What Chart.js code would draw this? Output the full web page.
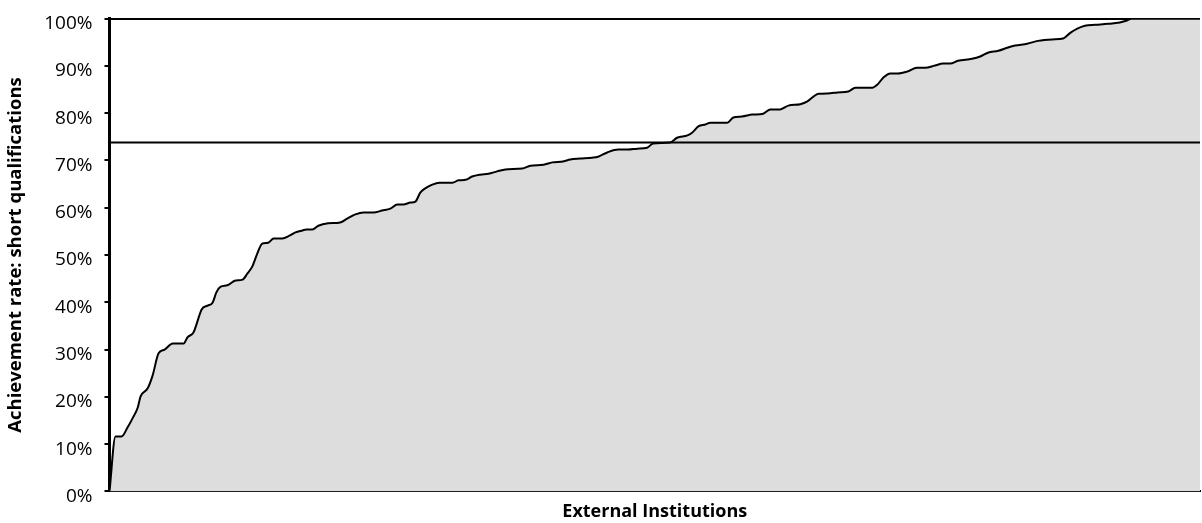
<!DOCTYPE html>
<html lang="en">
<head>
    <meta charset="UTF-8">
    <title>Achievement rate: short qualifications</title>
    <script src="https://cdn.jsdelivr.net/npm/chart.js"></script>
    <style>
        body {
            margin: 0;
            padding: 0;
            background-color: #ffffff;
        }

        .chart-box {
            width: 1202px;
            height: 523px;
            position: relative;
        }
    </style>
</head>
<body>
    <div class="chart-box">
        <canvas id="rateChart"></canvas>
    </div>

    <script>
        // position of each institution along the ranking (percent of institutions)
        const institutionPct = [
            0, 0.55, 1.1, 1.65, 2.1, 2.6, 2.85, 3.5, 3.95, 4.5, 5.05, 5.8, 6.8, 7.15, 7.7, 8.0,
            8.45, 9.0, 9.45, 9.8, 10.2, 10.8, 11.55, 12.2, 12.65, 13.1, 13.55, 14.0, 14.55, 15.05,
            15.85, 16.5, 17.05, 17.7, 18.05, 18.6, 19.15, 20.05, 21.15, 21.8, 22.55, 23.3, 24.2,
            25.0, 25.75, 26.4, 26.95, 27.6, 28.05, 28.5, 28.95, 29.6, 30.25, 31.45, 32.0, 32.65,
            33.25, 34.0, 34.75, 35.55, 36.3, 37.85, 38.6, 39.8, 40.6, 41.6, 42.25, 43.15, 44.25,
            44.8, 45.65, 46.65, 47.55, 48.4, 49.3, 49.85, 51.4, 52.05, 53.0, 53.45, 54.0, 54.65,
            55.1, 56.65, 57.2, 58.0, 58.95, 59.95, 60.6, 61.5, 62.25, 63.35, 64.0, 64.55, 65.0,
            66.1, 66.75, 67.75, 68.4, 69.95, 70.4, 70.95, 71.6, 72.3, 73.15, 74.05, 74.8, 75.7,
            76.45, 77.1, 77.8, 79.1, 79.85, 80.55, 81.5, 82.4, 83.05, 84.15, 85.15, 86.45, 87.45,
            88.1, 88.75, 89.45, 90.4, 91.55, 92.65, 93.3, 93.7, 100
        ];

        // achievement rate (%) read for each of those positions
        const achievementRate = [
            0, 11.6, 11.6, 13.5, 15.4, 17.8, 20.1, 21.8, 24.5, 29.2, 30.0, 31.3, 31.3, 32.6, 33.6, 35.5,
            38.5, 39.3, 39.9, 42.1, 43.3, 43.6, 44.6, 44.8, 46.1, 47.6, 50.3, 52.4, 52.6, 53.5,
            53.5, 54.1, 54.8, 55.2, 55.4, 55.4, 56.2, 56.7, 56.9, 57.7, 58.6, 59.0, 59.0,
            59.4, 59.8, 60.7, 60.7, 61.1, 61.3, 63.2, 64.1, 64.9, 65.3, 65.3, 65.8, 65.9,
            66.6, 67.0, 67.2, 67.7, 68.1, 68.3, 68.9, 69.1, 69.6, 69.8, 70.2, 70.4, 70.6,
            70.8, 71.7, 72.3, 72.3, 72.5, 72.7, 73.6, 73.8, 74.8, 75.3, 75.9, 77.2, 77.6,
            78.0, 78.0, 79.1, 79.3, 79.7, 79.9, 80.8, 80.8, 81.6, 81.9, 82.5, 83.5, 84.1,
            84.2, 84.4, 84.6, 85.4, 85.4, 86.0, 87.5, 88.4, 88.4, 88.8, 89.6, 89.6, 90.1,
            90.5, 90.5, 91.1, 91.5, 92.0, 92.8, 93.2, 93.9, 94.3, 94.7, 95.3, 95.6, 95.8,
            97.0, 97.9, 98.5, 98.7, 98.9, 99.2, 99.6, 100, 100
        ];

        const benchmarkRate = 73.8;
        const yTicks = [0, 10, 20, 30, 40, 50, 60, 70, 80, 90, 100];

        const fontFamily = "'Open Sans', 'Noto Sans', sans-serif";

        const curve = institutionPct.map((p, i) => ({ x: p, y: achievementRate[i] }));
        const benchmark = [{ x: 0, y: benchmarkRate }, { x: 100, y: benchmarkRate }];

        const ctx = document.getElementById('rateChart').getContext('2d');
        new Chart(ctx, {
            type: 'line',
            data: {
                datasets: [
                    {
                        label: 'Benchmark',
                        data: benchmark,
                        borderColor: '#000000',
                        borderWidth: 2,
                        pointRadius: 0,
                        fill: false,
                        order: 0
                    },
                    {
                        label: 'Achievement rate',
                        data: curve,
                        borderColor: '#000000',
                        backgroundColor: '#dddddd',
                        borderWidth: 2,
                        pointRadius: 0,
                        fill: 'origin',
                        cubicInterpolationMode: 'monotone',
                        order: 1
                    }
                ]
            },
            options: {
                responsive: true,
                maintainAspectRatio: false,
                animation: false,
                layout: {
                    padding: { left: 5, right: 2, top: 0, bottom: 0 }
                },
                plugins: {
                    legend: { display: false },
                    tooltip: { enabled: false }
                },
                scales: {
                    x: {
                        type: 'linear',
                        min: 0,
                        max: 100,
                        ticks: { display: false },
                        grid: { display: false },
                        border: { display: true, color: '#000000', width: 2 },
                        title: {
                            display: true,
                            text: 'External Institutions',
                            color: '#000000',
                            font: { family: fontFamily, size: 18, weight: 'bold' },
                            padding: { top: 2, bottom: 0 }
                        }
                    },
                    y: {
                        min: 0,
                        max: 100,
                        afterBuildTicks: axis => {
                            axis.ticks = yTicks.map(v => ({ value: v }));
                        },
                        ticks: {
                            color: '#000000',
                            font: { family: fontFamily, size: 19, lineHeight: 0.7 },
                            padding: 12,
                            labelOffset: 5,
                            callback: v => v + '%'
                        },
                        grid: {
                            drawOnChartArea: true,
                            drawTicks: true,
                            tickLength: 5,
                            tickColor: '#000000',
                            tickWidth: 2,
                            lineWidth: 2,
                            color: c => (c.tick && c.tick.value === 100) ? '#000000' : 'rgba(0,0,0,0)'
                        },
                        border: { display: true, color: '#000000', width: 3 },
                        title: {
                            display: true,
                            text: 'Achievement rate: short qualifications',
                            color: '#000000',
                            font: { family: fontFamily, size: 18.5, weight: 'bold' },
                            padding: { top: 0, bottom: 5 }
                        }
                    }
                }
            }
        });
    </script>
</body>
</html>
